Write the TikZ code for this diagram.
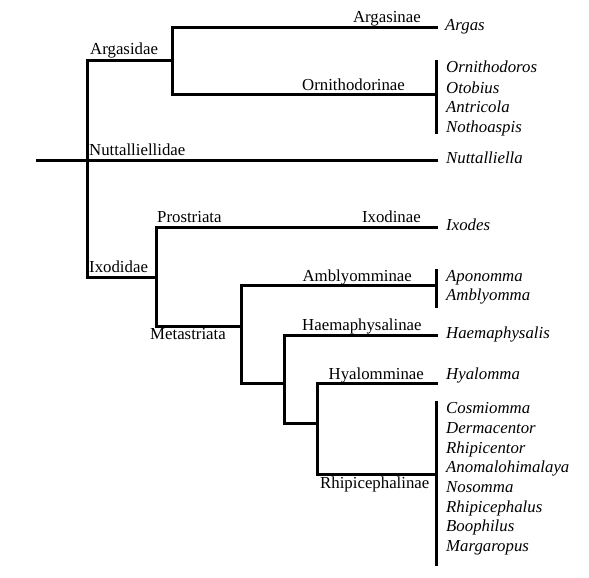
\documentclass[tikz,border=0pt]{standalone}
\usepackage{fontspec}
\setmainfont{Liberation Serif}
\begin{document}
\begin{tikzpicture}[x=1pt,y=-1pt,
  branch/.style={line width=3pt,line cap=rect},
  bar/.style={line width=3pt},
  clade/.style={inner sep=0pt,font=\fontsize{16.8}{20}\selectfont},
  genus/.style={inner sep=0pt,anchor=base west,font=\fontsize{16.8}{20}\selectfont\itshape}]
\useasboundingbox (0,0) rectangle (589,578);
% junction coordinates
\coordinate (root) at (37,160);
\coordinate (rootN) at (87,160);
\coordinate (argT) at (87,61);
\coordinate (ixoB) at (87,277);
\coordinate (argJ) at (172,61);
\coordinate (argJt) at (172,28);
\coordinate (argJb) at (172,94);
\coordinate (argE) at (436,28);
\coordinate (ornE) at (436,94);
\coordinate (nutE) at (436,160);
\coordinate (ixoJ) at (156,277);
\coordinate (ixoJt) at (156,227);
\coordinate (ixoJb) at (156,326);
\coordinate (proE) at (436,227);
\coordinate (metJ) at (241,326);
\coordinate (metJt) at (241,285);
\coordinate (metJb) at (241,383);
\coordinate (ambE) at (436,285);
\coordinate (haeJ) at (284,383);
\coordinate (haeJt) at (284,335);
\coordinate (haeJb) at (284,423);
\coordinate (haeE) at (436,335);
\coordinate (hyaJ) at (317,423);
\coordinate (hyaJt) at (317,383);
\coordinate (hyaJb) at (317,474);
\coordinate (hyaE) at (436,383);
\coordinate (rhiE) at (436,474);
\coordinate (ornBt) at (436,60);
\coordinate (ornBb) at (436,134);
\coordinate (ambBt) at (436,269);
\coordinate (ambBb) at (436,308);
\coordinate (rhiBt) at (436,401);
\coordinate (rhiBb) at (436,566);
% branches
\draw[branch] (root) -- (nutE);
\draw[branch] (argT) -- (ixoB);
\draw[branch] (argT) -- (argJ);
\draw[branch] (argJt) -- (argJb);
\draw[branch] (argJt) -- (argE);
\draw[branch] (argJb) -- (ornE);
\draw[branch] (ixoB) -- (ixoJ);
\draw[branch] (ixoJt) -- (ixoJb);
\draw[branch] (ixoJt) -- (proE);
\draw[branch] (ixoJb) -- (metJ);
\draw[branch] (metJt) -- (metJb);
\draw[branch] (metJt) -- (ambE);
\draw[branch] (metJb) -- (haeJ);
\draw[branch] (haeJt) -- (haeJb);
\draw[branch] (haeJt) -- (haeE);
\draw[branch] (haeJb) -- (hyaJ);
\draw[branch] (hyaJt) -- (hyaJb);
\draw[branch] (hyaJt) -- (hyaE);
\draw[branch] (hyaJb) -- (rhiE);
% brackets
\draw[bar] (ornBt) -- (ornBb);
\draw[bar] (ambBt) -- (ambBb);
\draw[bar] (rhiBt) -- (rhiBb);
% clade labels
\node[clade,anchor=base west] (lArgasidae) at (90,55) {Argasidae};
\node[clade,anchor=base east] (lArgasinae) at (421,23) {Argasinae};
\node[clade,anchor=base west] (lOrnithodorinae) at (302,90) {Ornithodorinae};
\node[clade,anchor=base west] (lNuttalliellidae) at (89,155) {Nuttalliellidae};
\node[clade,anchor=base west] (lIxodidae) at (89,272) {Ixodidae};
\node[clade,anchor=base west] (lProstriata) at (157,222) {Prostriata};
\node[clade,anchor=base east] (lIxodinae) at (421,222) {Ixodinae};
\node[clade,anchor=base west] (lMetastriata) at (150,339) {Metastriata};
\node[clade,anchor=base east] (lAmblyomminae) at (412,281) {Amblyomminae};
\node[clade,anchor=base west] (lHaemaphysalinae) at (302,330) {Haemaphysalinae};
\node[clade,anchor=base east] (lHyalomminae) at (424,379) {Hyalomminae};
\node[clade,anchor=base west] (lRhipicephalinae) at (320,488) {Rhipicephalinae};
% genera
\node[genus] (gArgas) at (445,31) {Argas};
\node[genus] (gOrnithodoros) at (446,73) {Ornithodoros};
\node[genus] (gOtobius) at (446,93) {Otobius};
\node[genus] (gAntricola) at (446,112) {Antricola};
\node[genus] (gNothoaspis) at (446,132) {Nothoaspis};
\node[genus] (gNuttalliella) at (446,163) {Nuttalliella};
\node[genus] (gIxodes) at (446,230) {Ixodes};
\node[genus] (gAponomma) at (446,281) {Aponomma};
\node[genus] (gAmblyomma) at (446,300) {Amblyomma};
\node[genus] (gHaemaphysalis) at (446,338) {Haemaphysalis};
\node[genus] (gHyalomma) at (446,379) {Hyalomma};
\node[genus] (gCosmiomma) at (446,413) {Cosmiomma};
\node[genus] (gDermacentor) at (446,433) {Dermacentor};
\node[genus] (gRhipicentor) at (446,453) {Rhipicentor};
\node[genus] (gAnomalohimalaya) at (446,472) {Anomalohimalaya};
\node[genus] (gNosomma) at (446,492) {Nosomma};
\node[genus] (gRhipicephalus) at (446,512) {Rhipicephalus};
\node[genus] (gBoophilus) at (446,531) {Boophilus};
\node[genus] (gMargaropus) at (446,551) {Margaropus};
\end{tikzpicture}
\end{document}
